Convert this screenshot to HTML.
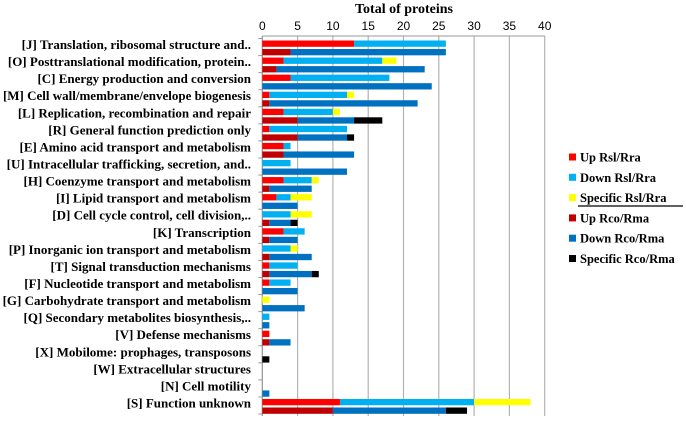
<!DOCTYPE html>
<html><head><meta charset="utf-8"><style>
body{margin:0;background:#fff;width:686px;height:419px;overflow:hidden}
text{font-family:"Liberation Serif",serif;font-weight:bold}
</style></head><body>
<svg id="chart" width="686" height="419" xmlns="http://www.w3.org/2000/svg"></svg>
<script>
const categories=["[J] Translation, ribosomal structure and..","[O] Posttranslational modification, protein..","[C] Energy production and conversion","[M] Cell wall/membrane/envelope biogenesis","[L] Replication, recombination and repair","[R] General function prediction only","[E] Amino acid transport and metabolism","[U] Intracellular trafficking, secretion, and..","[H] Coenzyme transport and metabolism","[I] Lipid transport and metabolism","[D] Cell cycle control, cell division,..","[K] Transcription","[P] Inorganic ion transport and metabolism","[T] Signal transduction mechanisms","[F] Nucleotide transport and metabolism","[G] Carbohydrate transport and metabolism","[Q] Secondary metabolites biosynthesis,..","[V] Defense mechanisms","[X] Mobilome: prophages, transposons","[W] Extracellular structures","[N] Cell motility","[S] Function unknown"];
const upRsl=[13,3,4,1,3,1,3,0,3,2,0,3,0,1,1,0,0,1,0,0,0,11];
const downRsl=[13,14,14,11,7,11,1,4,4,2,4,3,4,4,3,0,1,0,0,0,0,19];
const specRsl=[0,2,0,1,1,0,0,0,1,3,3,0,1,0,0,1,0,0,0,0,0,8];
const upRco=[4,2,0,1,5,5,3,0,1,0,1,1,1,1,0,0,0,1,0,0,0,10];
const downRco=[22,21,24,21,8,7,10,12,6,5,3,4,6,6,5,6,1,3,0,0,1,16];
const specRco=[0,0,0,0,4,1,0,0,0,0,1,0,0,1,0,0,0,0,1,0,0,3];
const xTicks=[0,5,10,15,20,25,30,35,40];
const legendLabels=["Up Rsl/Rra","Down Rsl/Rra","Specific Rsl/Rra","Up Rco/Rma","Down Rco/Rma","Specific Rco/Rma"];
const colors=["#ff0000","#00b0f0","#ffff00","#c00000","#0070c0","#000000"];

const svg=document.getElementById('chart');
const NS="http://www.w3.org/2000/svg";
const x0=262.3,pxPer=7.06,yTop=40.5,catPitch=17.07,barPitch=8.53,barH=6.3;
function xs(v){return x0+v*pxPer;}
function yCat(i){return yTop+i*catPitch;}
function mk(t,a){const e=document.createElementNS(NS,t);for(const k in a)e.setAttribute(k,a[k]);svg.appendChild(e);return e;}

let e=mk('text',{x:404,y:13,'text-anchor':'middle','font-size':14});
e.textContent="Total of proteins";


xTicks.forEach(t=>{
  let g=mk('line',{x1:xs(t),x2:xs(t),y1:36,y2:416,stroke:'#b3b3b3','stroke-width':1.2});
  
  
  let l=mk('text',{x:xs(t),y:30,'text-anchor':'middle','font-size':12,style:'font-family:"Liberation Sans",sans-serif;font-weight:normal'});
  l.textContent=t;
  
  
});
let ax=mk('line',{x1:x0,x2:xs(40),y1:36,y2:36,stroke:'#999','stroke-width':1});


let ay=mk('line',{x1:x0,x2:x0,y1:36,y2:416,stroke:'#999','stroke-width':1});


for(let i=0;i<=categories.length;i++){
  let tk=mk('line',{x1:x0-4,x2:x0,y1:yCat(i)-2,y2:yCat(i)-2,stroke:'#999'});
  
  
}
function stack(i,off,vals,cols,name){
  let acc=0;
  vals.forEach((v,k)=>{
    if(v>0){
      let r=mk('rect',{x:xs(acc),y:yCat(i)+off,width:v*pxPer,height:barH,fill:cols[k]});
      
      
    }
    acc+=v;
  });
}
categories.forEach((c,i)=>{
  let t=mk('text',{x:251,y:yCat(i)+8.5,'text-anchor':'end','font-size':13});
  t.textContent=c;
  
  
  stack(i,0,[upRsl[i],downRsl[i],specRsl[i]],colors.slice(0,3),'bar-rsl');
  stack(i,barPitch,[upRco[i],downRco[i],specRco[i]],colors.slice(3),'bar-rco');
});
legendLabels.forEach((lab,k)=>{
  let y=157+k*20.3;
  let s=mk('rect',{x:569,y:y-3.5,width:7,height:7,fill:colors[k]});
  
  
  let t=mk('text',{x:580,y:y+4.5,'font-size':12.5});
  t.textContent=lab;
  
  
});
let ul=mk('line',{x1:578,x2:683,y1:206,y2:206,stroke:'#000','stroke-width':1.3});


</script>
</body></html>
